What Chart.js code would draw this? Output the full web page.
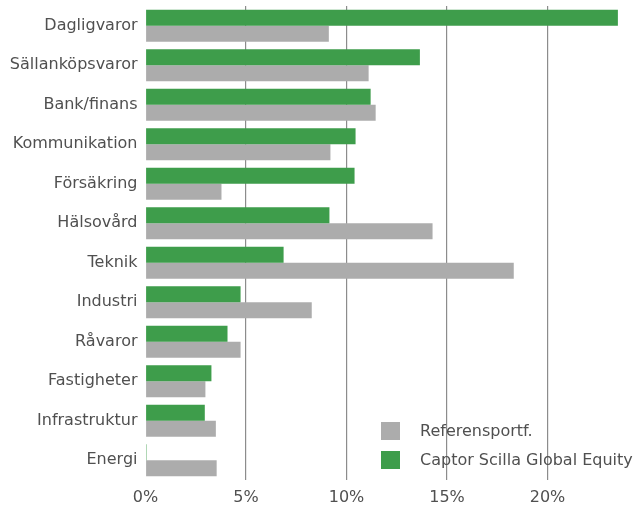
<html>
<head>
    <title>Sektorfördelning</title>
    <script src="https://cdn.jsdelivr.net/npm/chart.js"></script>
    <style>
        body { margin: 0; background: white; }
        #wrap { position: relative; width: 640px; height: 507px; }
        .legend { position: absolute; left: 381px; font-family: "DejaVu Sans", sans-serif; font-size: 16px; color: #505050; }
        .legend div { height: 29px; display: flex; align-items: center; white-space: nowrap; }
        .legend span.box { display: inline-block; width: 19px; height: 18px; margin-right: 20px; }
    </style>
</head>
<body>
    <div id="wrap">
        <canvas id="sector_chart" width="640" height="507"></canvas>
        <div class="legend" id="legend" style="top:416px"></div>
    </div>

    <script>
        const sectors = ["Dagligvaror", "Sällanköpsvaror", "Bank/finans", "Kommunikation", "Försäkring",
            "Hälsovård", "Teknik", "Industri", "Råvaror", "Fastigheter", "Infrastruktur", "Energi"];
        const fund_values = [23.5, 13.65, 11.2, 10.45, 10.4, 9.15, 6.87, 4.73, 4.08, 3.28, 2.95, 0.05];
        const ref_values = [9.12, 11.1, 11.45, 9.2, 3.78, 14.28, 18.32, 8.27, 4.73, 2.98, 3.5, 3.54];
        const x_ticks = [0, 5, 10, 15, 20];

        const fund_name = "Captor Scilla Global Equity";
        const ref_name = "Referensportf.";
        const green = "#3e9d4b";
        const grey = "#acacac";
        const text_color = "#505050";
        const font_name = "DejaVu Sans";

        const ctx = document.getElementById("sector_chart").getContext("2d");
        new Chart(ctx, {
            type: "bar",
            data: {
                labels: sectors,
                datasets: [
                    { label: fund_name, data: fund_values, backgroundColor: green, barPercentage: 1.0, categoryPercentage: 0.81 },
                    { label: ref_name, data: ref_values, backgroundColor: grey, barPercentage: 1.0, categoryPercentage: 0.81 }
                ]
            },
            options: {
                indexAxis: "y",
                responsive: false,
                animation: false,
                layout: { padding: { top: 6, right: 0, left: 0, bottom: 0 } },
                plugins: {
                    legend: { display: false },
                    tooltip: { enabled: false }
                },
                scales: {
                    x: {
                        min: 0,
                        max: 24.6,
                        afterFit: scale => { scale.height = 27; scale.paddingLeft = 0; scale.paddingRight = 0; },
                        afterBuildTicks: scale => { scale.ticks = x_ticks.map(v => ({ value: v })); },
                        border: { display: false },
                        grid: {
                            drawTicks: false,
                            color: c => c.tick && c.tick.value === 0 ? "rgba(0,0,0,0)" : "#8c8c8c",
                            lineWidth: 1.2
                        },
                        ticks: {
                            padding: 8,
                            color: text_color,
                            font: { family: font_name, size: 16 },
                            callback: v => v + "%"
                        }
                    },
                    y: {
                        afterFit: scale => { scale.width = 145.5; scale.paddingTop = 0; scale.paddingBottom = 0; },
                        border: { display: false },
                        grid: { display: false, drawTicks: false },
                        ticks: {
                            padding: 8,
                            color: text_color,
                            font: { family: font_name, size: 16 }
                        }
                    }
                }
            }
        });

        // legend, grey first like the original
        const legend = document.getElementById("legend");
        [[ref_name, grey], [fund_name, green]].forEach(item => {
            const row = document.createElement("div");
            const box = document.createElement("span");
            box.className = "box";
            box.style.background = item[1];
            row.appendChild(box);
            row.appendChild(document.createTextNode(item[0]));
            legend.appendChild(row);
        });
    </script>
</body>
</html>
